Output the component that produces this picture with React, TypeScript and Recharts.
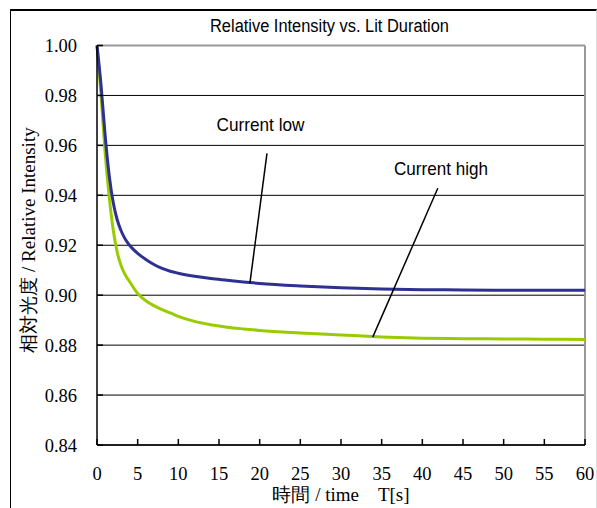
import {
  CartesianGrid,
  Line,
  LineChart,
  ReferenceLine,
  XAxis,
  YAxis,
} from 'recharts'

// Values.
const TIME = [
  0, 0.5, 1, 1.5, 2, 2.5, 3, 3.5, 4, 5, 6, 7, 8, 9, 10, 12, 14, 16, 18, 20, 25, 30, 35, 40, 45, 50,
  55, 60,
]
const CURRENT_LOW = [
  1.0, 0.984, 0.964, 0.948, 0.937, 0.93, 0.9255, 0.9223, 0.92, 0.9167, 0.9143, 0.9123, 0.9107,
  0.9096, 0.9088, 0.9076, 0.9067, 0.906, 0.9053, 0.9047, 0.9037, 0.903, 0.9025, 0.9022, 0.9021,
  0.902, 0.902, 0.902,
]
const CURRENT_HIGH = [
  1.0, 0.98, 0.957, 0.9395, 0.926, 0.917, 0.9115, 0.908, 0.9055, 0.9007, 0.8978, 0.8958, 0.8942,
  0.8929, 0.8915, 0.8895, 0.8882, 0.8872, 0.8865, 0.8859, 0.8849, 0.8841, 0.8833, 0.8828, 0.8826,
  0.8825, 0.8824, 0.8823,
]
const X_TICKS = [0, 5, 10, 15, 20, 25, 30, 35, 40, 45, 50, 55, 60]
const Y_TICKS = [0.84, 0.86, 0.88, 0.9, 0.92, 0.94, 0.96, 0.98, 1.0]

// leader lines from the labels down to each curve, in data units
const LOW_LEADER = [
  { x: 20.9, y: 0.9568 },
  { x: 18.8, y: 0.9048 },
]
const HIGH_LEADER = [
  { x: 41.9, y: 0.9428 },
  { x: 33.9, y: 0.8832 },
]

const BLUE = '#2e3192'
const GREEN = '#99cc00'
const SERIF = 'Liberation Serif, serif'
const SANS = 'Liberation Sans, sans-serif'

const rows = TIME.map((t, i) => ({ t, low: CURRENT_LOW[i], high: CURRENT_HIGH[i] }))

function XTick({ x, y, payload }: any) {
  return (
    <text x={x} y={y} dy="0.71em" textAnchor="middle" fontFamily={SERIF} fontSize={18.5} fill="#000">
      {payload.value}
    </text>
  )
}

function YTick({ x, y, payload }: any) {
  return (
    <text x={x} y={y} dy="0.355em" textAnchor="end" fontFamily={SERIF} fontSize={18.5} fill="#000">
      {Number(payload.value).toFixed(2)}
    </text>
  )
}

export default function App() {
  return (
    <div
      style={{
        position: 'absolute',
        left: 0,
        top: 0,
        width: 597,
        height: 508,
        background: '#fff',
        fontFamily: SERIF,
      }}
    >
      {/* outer frame, open at the bottom */}
      <div
        style={{
          position: 'absolute',
          left: 10,
          top: 9,
          width: 585,
          height: 520,
          borderLeft: '1.5px solid #000',
          borderTop: '2px solid #000',
          borderRight: '1px solid #ddd',
        }}
      />
      <LineChart
        width={597}
        height={508}
        data={rows}
        margin={{ top: 45.5, right: 12, bottom: 0, left: 0 }}
        style={{ position: 'absolute', left: 0, top: 0 }}
      >
        <CartesianGrid vertical={false} stroke="#000" strokeWidth={1} />
        <XAxis
          dataKey="t"
          type="number"
          domain={[0, 60]}
          ticks={X_TICKS}
          height={63}
          stroke="#000"
          strokeWidth={1.5}
          tickSize={-6}
          tickMargin={28}
          tick={<XTick />}
        />
        <YAxis
          type="number"
          domain={[0.84, 1.0]}
          ticks={Y_TICKS}
          width={97}
          stroke="#000"
          strokeWidth={1.5}
          tickSize={-6}
          tickMargin={26}
          tick={<YTick />}
        />
        <ReferenceLine y={1.0} stroke="#999" strokeWidth={2} />
        <ReferenceLine x={60} stroke="#999" strokeWidth={2} />
        <Line
          type="monotone"
          dataKey="high"
          stroke={GREEN}
          strokeWidth={3}
          dot={false}
          isAnimationActive={false}
        />
        <Line
          type="monotone"
          dataKey="low"
          stroke={BLUE}
          strokeWidth={3}
          dot={false}
          isAnimationActive={false}
        />
        <ReferenceLine segment={LOW_LEADER} stroke="#000" strokeWidth={1.5} ifOverflow="visible" />
        <ReferenceLine segment={HIGH_LEADER} stroke="#000" strokeWidth={1.5} ifOverflow="visible" />
        <text x={329.5} y={32} textAnchor="middle" fontFamily={SANS} fontSize={18} textLength={239} lengthAdjust="spacingAndGlyphs">
          Relative Intensity vs. Lit Duration
        </text>
        <text x={216.5} y={131} fontFamily={SANS} fontSize={19} textLength={88} lengthAdjust="spacingAndGlyphs">
          Current low
        </text>
        <text x={394} y={175} fontFamily={SANS} fontSize={19} textLength={94} lengthAdjust="spacingAndGlyphs">
          Current high
        </text>
        <text x={341} y={501} textAnchor="middle" fontFamily={SERIF} fontSize={19}>
          時間 / time　T[s]
        </text>
        <text
          transform="translate(35 240) rotate(-90)"
          textAnchor="middle"
          fontFamily={SERIF}
          fontSize={19}
        >
          相対光度 / Relative Intensity
        </text>
      </LineChart>
    </div>
  )
}
